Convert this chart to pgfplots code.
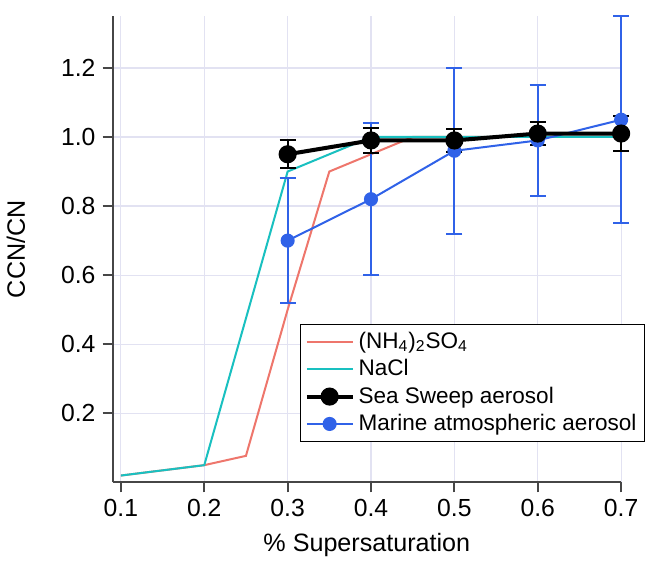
\documentclass[border=0pt]{standalone}
\usepackage{fontspec}
\setmainfont{Liberation Sans}
\usepackage{pgfplots}
\pgfplotsset{compat=1.18}

\definecolor{salmon}{RGB}{238,118,108}
\definecolor{tealc}{RGB}{25,192,192}
\definecolor{blu}{RGB}{48,98,232}
\definecolor{gridc}{RGB}{226,226,242}
\definecolor{axc}{RGB}{70,70,70}

\begin{document}
\begin{tikzpicture}
\begin{axis}[
    scale only axis,
    width=253pt,
    height=232pt,
    xmin=0.09, xmax=0.7,
    ymin=0, ymax=1.35,
    axis x line*=bottom,
    axis y line*=left,
    axis line style={axc, line width=1pt},
    tick align=outside,
    major tick length=5pt,
    tick style={axc, line width=1pt},
    xtick={0.1,0.2,0.3,0.4,0.5,0.6,0.7},
    ytick={0.2,0.4,0.6,0.8,1.0,1.2},
    /pgf/number format/.cd, fixed, fixed zerofill, precision=1, assume math mode=true,
    /pgfplots/.cd,
    ticklabel style={font=\fontsize{12.3}{14}\selectfont},
    grid=major,
    grid style={gridc, line width=0.6pt},
    xlabel={\% Supersaturation},
    ylabel={CCN/CN},
    label style={font=\fontsize{12.5}{15}\selectfont},
    ylabel style={at={(axis description cs:-0.19,0.5)}, anchor=center},
    xlabel style={at={(axis description cs:0.5,-0.135)}, anchor=center},
    clip=false,
    legend cell align=left,
    legend style={at={(axis cs:0.315,0.46)}, anchor=north west,
        draw=black, line width=0.6pt, font=\fontsize{11.2}{14}\selectfont,
        row sep=0pt, inner sep=2pt},
    legend image code/.code={\draw[mark repeat=2,mark phase=2]
        plot coordinates {(0cm,0cm) (0.4cm,0cm) (0.8cm,0cm)};},
]
% room above the axis, as in the reference
\path (rel axis cs:0,1) -- ++(0,8pt);
% (NH4)2SO4
\addplot[salmon, line width=1pt, no markers] coordinates {
    (0.1,0.02) (0.2,0.05) (0.25,0.077) (0.3,0.5) (0.35,0.9)
    (0.4,0.95) (0.45,1.0) (0.5,1.0) (0.6,1.0) (0.7,1.0)
};
\addlegendentry{(NH\textsubscript{4})\textsubscript{2}SO\textsubscript{4}}
% NaCl
\addplot[tealc, line width=1pt, no markers] coordinates {
    (0.1,0.02) (0.2,0.05) (0.3,0.9) (0.4,1.0) (0.5,1.0) (0.6,1.0) (0.7,1.0)
};
\addlegendentry{NaCl}
% Marine atmospheric aerosol
\addplot[blu, line width=1pt, mark=*, mark size=3pt, forget plot,
    error bars/.cd, y dir=both, y explicit,
    error bar style={blu, line width=1pt},
    error mark options={rotate=90, mark size=4pt, line width=1pt}]
coordinates {
    (0.3,0.70) +- (0,0.18)
    (0.4,0.82) +- (0,0.22)
    (0.5,0.96) +- (0,0.24)
    (0.6,0.99) +- (0,0.16)
    (0.7,1.05) +- (0,0.30)
};
% Sea Sweep aerosol
\addplot[black, line width=2pt, mark=*, mark size=3.5pt,
    error bars/.cd, y dir=both, y explicit,
    error bar style={black, line width=1pt},
    error mark options={rotate=90, mark size=4pt, line width=1pt}]
coordinates {
    (0.3,0.95) +- (0,0.04)
    (0.4,0.99) +- (0,0.035)
    (0.5,0.99) +- (0,0.033)
    (0.6,1.01) +- (0,0.034)
    (0.7,1.01) +- (0,0.05)
};
\addlegendentry{Sea Sweep aerosol}
\addlegendimage{blu, line width=1pt, mark=*, mark size=3pt}
\addlegendentry{Marine atmospheric aerosol}
\end{axis}
\end{tikzpicture}
\end{document}
